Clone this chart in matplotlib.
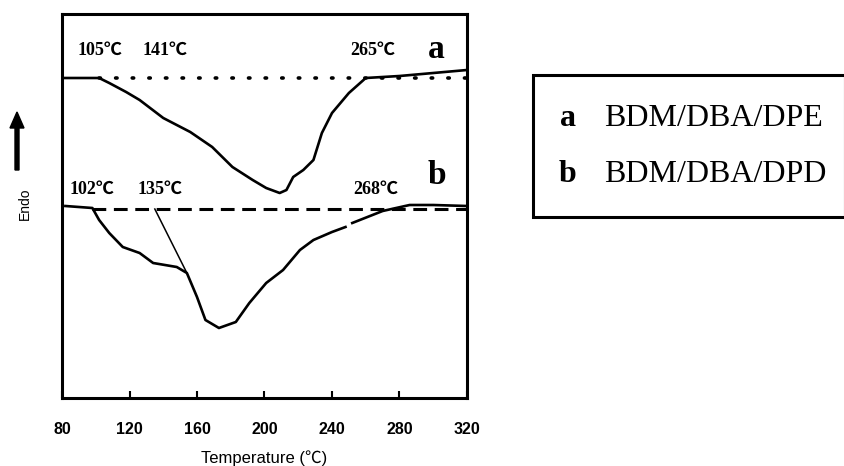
import matplotlib
matplotlib.use("Agg")
import matplotlib.pyplot as plt
from matplotlib.patches import Rectangle, FancyArrow

# ---- data (y in arbitrary heat-flow units) ----
temp_a = [80, 102, 108, 118, 126, 140, 156, 169, 181, 193, 201, 209, 213, 217, 223, 229, 234, 240, 250, 260, 280, 300, 320]
flow_a = [320, 320, 315, 306, 298, 280, 266, 251, 231, 218, 210, 205, 208, 221, 228, 238, 265, 285, 305, 320, 322, 325, 328]

temp_b1 = [82, 98, 102, 108, 116, 126, 134, 148, 154, 160, 165, 173, 183, 191, 201, 211, 221, 229, 240, 248]
flow_b1 = [192, 190, 178, 165, 151, 145, 135, 131, 125, 101, 78, 70, 76, 95, 115, 128, 148, 158, 166, 171]
temp_b2 = [252, 270, 286, 300, 320]
flow_b2 = [175, 187, 193, 193, 192]

base_a_temp = [102, 320]
base_a_flow = [320, 320]
base_b_temp = [98, 320]
base_b_flow = [189, 189]
tangent_temp = [135, 154]
tangent_flow = [189, 125]

labels_a = [("105℃", 102.5), ("141℃", 141), ("265℃", 264)]
labels_b = [("102℃", 98), ("135℃", 138), ("268℃", 266)]
xticks = [80, 120, 160, 200, 240, 280, 320]
legend_items = [("a", "BDM/DBA/DPE"), ("b", "BDM/DBA/DPD")]

W, H = 845, 466
fig = plt.figure(figsize=(W / 100, H / 100), dpi=100)
ax = fig.add_axes([62 / W, 1 - 398 / H, (467 - 62) / W, (398 - 14) / H])

lw = 1.9
ax.plot(temp_a, flow_a, color="black", lw=lw, solid_capstyle="round")
ax.plot(base_a_temp, base_a_flow, color="black", lw=2.6, linestyle=(0, (0.4, 4.2)), dash_capstyle="round")
ax.plot(temp_b1, flow_b1, color="black", lw=lw)
ax.plot(temp_b2, flow_b2, color="black", lw=lw)
ax.plot(base_b_temp, base_b_flow, color="black", lw=2.2, linestyle=(0, (4.5, 2.5)))
ax.plot(tangent_temp, tangent_flow, color="black", lw=1.1)

ax.set_xlim(80, 320)
ax.set_ylim(0, 384)

fam = ["Liberation Serif", "Noto Sans CJK SC", "DejaVu Sans"]
for txt, t in labels_a:
    ax.text(t, 348, txt, ha="center", va="center", fontsize=13, fontweight="bold", family=fam)
for txt, t in labels_b:
    ax.text(t, 209, txt, ha="center", va="center", fontsize=13, fontweight="bold", family=fam)
ax.text(302, 348, "a", ha="center", va="center", fontsize=24, fontweight="bold", family="Liberation Serif")
ax.text(302, 222, "b", ha="center", va="center", fontsize=24, fontweight="bold", family="Liberation Serif")

for s in ax.spines.values():
    s.set_linewidth(2.2)
ax.set_xticks(xticks)
ax.set_xticklabels([str(v) for v in xticks], fontsize=11.5, fontweight="bold", family="Liberation Sans")
ax.set_yticks([])
ax.tick_params(axis="x", direction="in", length=5, width=1.5, pad=17)
ax.set_xlabel("Temperature (℃)", fontsize=12, family=["Liberation Sans", "Noto Sans CJK SC", "DejaVu Sans"], labelpad=10)

# Endo label with arrow
fig.text(25 / W, 1 - 204 / H, "Endo", rotation=90, ha="center", va="center", fontsize=10, family="Liberation Sans")
fig.patches.append(FancyArrow(17 / W, 1 - 170 / H, 0, (170 - 112) / H, width=2.2 / H,
                              head_width=14 / W, head_length=16 / H, length_includes_head=True,
                              color="black", transform=fig.transFigure, figure=fig))

# legend box
fig.patches.append(Rectangle((533 / W, 1 - 217 / H), (845 - 533) / W, (217 - 75) / H,
                             fill=False, lw=2.2, edgecolor="black", transform=fig.transFigure, figure=fig))
for i, (key, name) in enumerate(legend_items):
    y = 1 - (118 + 57 * i) / H
    fig.text(568 / W, y, key, ha="center", va="center", fontsize=23, fontweight="bold", family="Liberation Serif")
    fig.text(604 / W, y, name, ha="left", va="center", fontsize=23, family="Liberation Serif")

fig.savefig("out.png", dpi=100)
